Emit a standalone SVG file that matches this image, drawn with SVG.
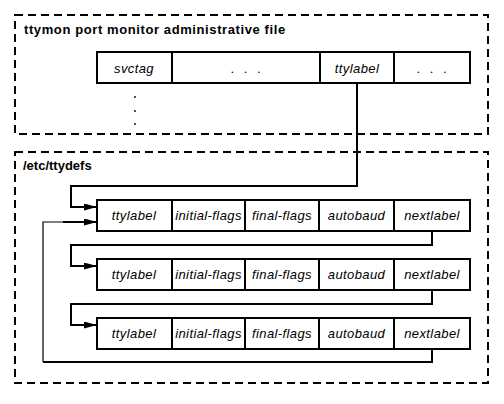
<svg xmlns="http://www.w3.org/2000/svg" width="504" height="404" viewBox="0 0 504 404">
<style>
.frame{fill:none;stroke:#000;stroke-width:2;stroke-dasharray:8 5}
.title{font-family:"Liberation Sans",Arial,sans-serif;font-weight:bold;font-size:13px;fill:#000}
.cell{fill:#fff;stroke:#000;stroke-width:2}
.div{stroke:#000;stroke-width:2}
.lbl{font-family:"Liberation Sans",Arial,sans-serif;font-style:italic;font-size:13px;letter-spacing:0.4px;fill:#000;text-anchor:middle}
.dots{font-family:"Liberation Sans",Arial,sans-serif;font-size:13px;letter-spacing:3px;fill:#000;text-anchor:middle}
.conn{fill:none;stroke:#000;stroke-width:2}
.thin{fill:none;stroke:#000;stroke-width:1.2}
</style>
<defs>
<marker id="arr" markerUnits="userSpaceOnUse" markerWidth="14" markerHeight="8" refX="13" refY="3.5" orient="auto">
<path d="M0,0 L13,3.5 L0,7 z" fill="#000"/>
</marker>
</defs>
<rect width="504" height="404" fill="#fff"/>

<g id="admin-file">
<rect class="frame" x="15" y="15" width="473" height="119"/>
<text class="title" x="24" y="34" letter-spacing="0.6">ttymon port monitor administrative file</text>
<g id="admin-record">
<rect class="cell" x="97" y="52" width="373" height="31"/>
<line class="div" x1="172" y1="52" x2="172" y2="83"/>
<line class="div" x1="320" y1="52" x2="320" y2="83"/>
<line class="div" x1="394" y1="52" x2="394" y2="83"/>
<text class="lbl" x="134" y="73">svctag</text>
<text class="dots" x="247" y="73">. . .</text>
<text class="lbl" x="357" y="73">ttylabel</text>
<text class="dots" x="433" y="73">. . .</text>
</g>
<circle cx="135" cy="97" r="0.9" fill="#000"/>
<circle cx="135" cy="111" r="0.9" fill="#000"/>
<circle cx="135" cy="124" r="0.9" fill="#000"/>
</g>

<g id="ttydefs">
<rect class="frame" x="15" y="152" width="473" height="231"/>
<text class="title" x="23" y="170" font-size="12">/etc/ttydefs</text>
</g>

<g id="entry1">
<rect class="cell" x="97" y="200" width="373" height="31"/>
<line class="div" x1="172" y1="200" x2="172" y2="231"/>
<line class="div" x1="245" y1="200" x2="245" y2="231"/>
<line class="div" x1="319" y1="200" x2="319" y2="231"/>
<line class="div" x1="394" y1="200" x2="394" y2="231"/>
<text class="lbl" x="134" y="220">ttylabel</text>
<text class="lbl" x="208.5" y="220">initial-flags</text>
<text class="lbl" x="282" y="220">final-flags</text>
<text class="lbl" x="356.5" y="220">autobaud</text>
<text class="lbl" x="432" y="220">nextlabel</text>
</g>

<g id="entry2">
<rect class="cell" x="97" y="259" width="373" height="31"/>
<line class="div" x1="172" y1="259" x2="172" y2="290"/>
<line class="div" x1="245" y1="259" x2="245" y2="290"/>
<line class="div" x1="319" y1="259" x2="319" y2="290"/>
<line class="div" x1="394" y1="259" x2="394" y2="290"/>
<text class="lbl" x="134" y="279">ttylabel</text>
<text class="lbl" x="208.5" y="279">initial-flags</text>
<text class="lbl" x="282" y="279">final-flags</text>
<text class="lbl" x="356.5" y="279">autobaud</text>
<text class="lbl" x="432" y="279">nextlabel</text>
</g>

<g id="entry3">
<rect class="cell" x="97" y="318" width="373" height="31"/>
<line class="div" x1="172" y1="318" x2="172" y2="349"/>
<line class="div" x1="245" y1="318" x2="245" y2="349"/>
<line class="div" x1="319" y1="318" x2="319" y2="349"/>
<line class="div" x1="394" y1="318" x2="394" y2="349"/>
<text class="lbl" x="134" y="338">ttylabel</text>
<text class="lbl" x="208.5" y="338">initial-flags</text>
<text class="lbl" x="282" y="338">final-flags</text>
<text class="lbl" x="356.5" y="338">autobaud</text>
<text class="lbl" x="432" y="338">nextlabel</text>
</g>

<g id="connectors">
<path class="conn" d="M357 83 V186 H71 V207 H97" marker-end="url(#arr)"/>
<path class="conn" d="M432 231 V245 H71 V266 H97" marker-end="url(#arr)"/>
<path class="conn" d="M432 290 V304 H71 V325 H97" marker-end="url(#arr)"/>
<path class="conn" d="M432 349 V362 H43"/>
<path class="thin" d="M43 362 V222 H63"/>
<path class="conn" d="M63 222 H97" marker-end="url(#arr)"/>
</g>
</svg>
